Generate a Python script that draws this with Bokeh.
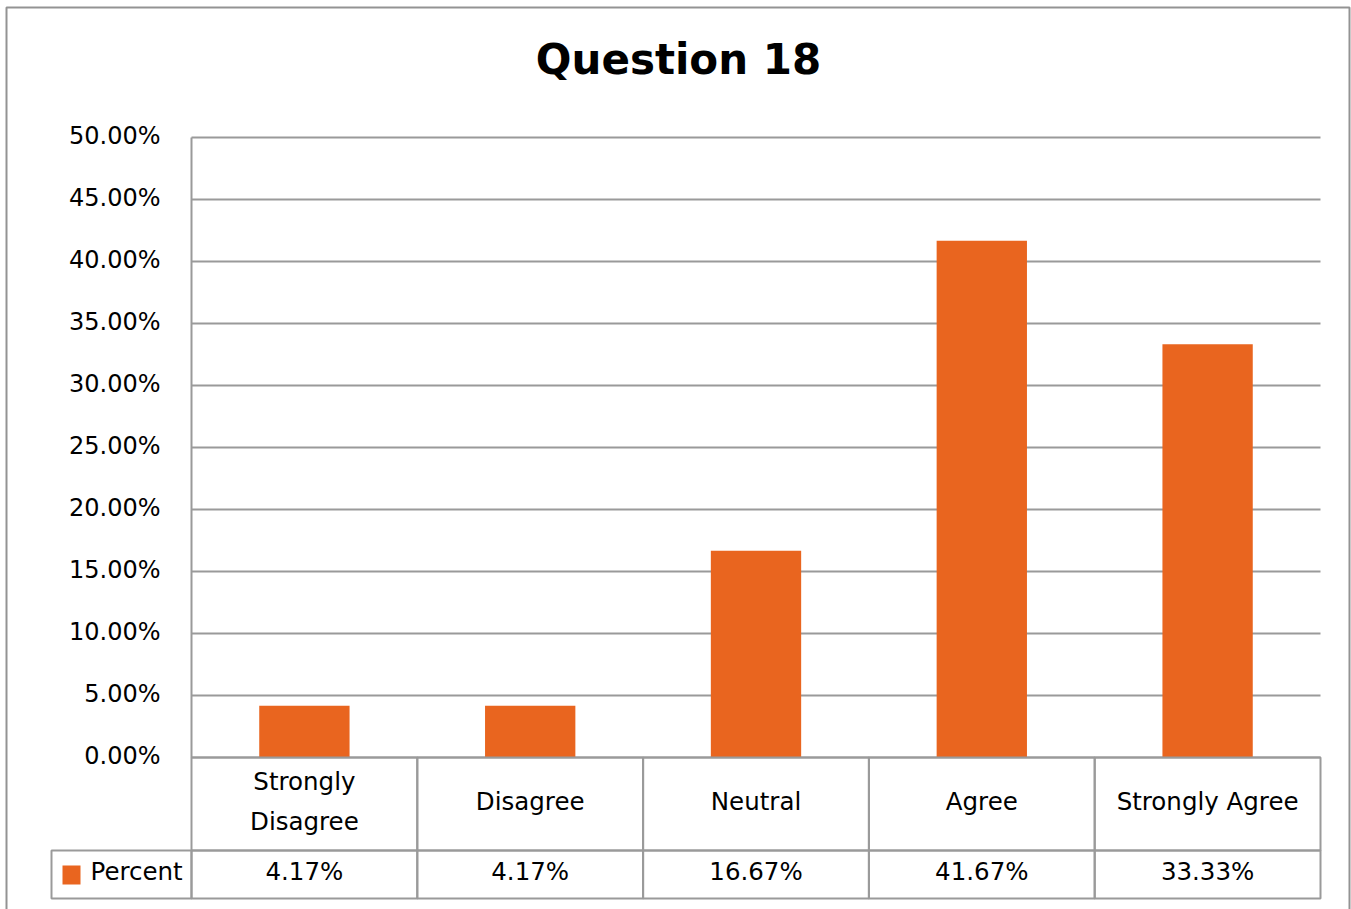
from bokeh.plotting import figure
from bokeh.models import Range1d, ColumnDataSource
from bokeh.core.properties import value
from bokeh.embed import file_html
from bokeh.resources import INLINE

# ---- data ----
categories = ["Strongly Disagree", "Disagree", "Neutral", "Agree", "Strongly Agree"]
header_labels = ["Strongly\nDisagree", "Disagree", "Neutral", "Agree", "Strongly Agree"]
percent = [0.0417, 0.0417, 0.1667, 0.4167, 0.3333]
value_labels = ["4.17%", "4.17%", "16.67%", "41.67%", "33.33%"]
y_ticks = [0.0, 0.05, 0.10, 0.15, 0.20, 0.25, 0.30, 0.35, 0.40, 0.45, 0.50]
series_name = "Percent"
title_text = "Question 18"

# ---- style / layout ----
FONT = "DejaVu Sans"
BAR = "#E9651F"
GRID = "#9a9a9a"
BORDER = "#939393"
W, H = 1351, 909
PL, PR, PT, PB = 191, 1320, 137, 757      # plot area in page px
YMAX = 0.5
n = len(categories)
XU = (PR - PL) / n           # px per category
YU = (PB - PT) / YMAX        # px per unit value


def x_of(px):
    return -0.5 + (px - PL) / XU


def y_of(py):
    return (PB - py) / YU


p = figure(width=W, height=H,
           x_range=Range1d(x_of(0), x_of(W)),
           y_range=Range1d(y_of(H), y_of(0)),
           output_backend="svg", toolbar_location=None,
           x_axis_location=None, y_axis_location=None,
           min_border=0)
p.outline_line_color = None
p.grid.visible = False
p.background_fill_color = "white"
p.border_fill_color = "white"

idx = list(range(n))
left_edge, right_edge = -0.5, n - 0.5

# outer chart border
p.quad(left=x_of(6), right=x_of(1349), top=y_of(7), bottom=y_of(H + 40),
       fill_color=None, line_color=BORDER, line_width=2)

# gridlines + y axis line
p.segment(x0=[left_edge] * len(y_ticks), x1=[right_edge] * len(y_ticks),
          y0=y_ticks, y1=y_ticks, line_color=GRID, line_width=2)
p.segment(x0=[left_edge], x1=[left_edge], y0=[0], y1=[YMAX],
          line_color=GRID, line_width=2)

# y tick labels
tick_text = ["%.2f%%" % (t * 100) for t in y_ticks]
p.text(x=[x_of(160)] * len(y_ticks), y=y_ticks, text=tick_text,
       text_align="right", text_baseline="middle", y_offset=-1.5,
       text_font=value(FONT), text_font_size="24px", text_color="black")

# bars
src = ColumnDataSource(dict(x=idx, top=percent, cat=categories))
p.vbar(x="x", top="top", width=0.4, source=src, fill_color=BAR, line_color=None)

# data table cells
row1_bot, row2_bot = y_of(850), y_of(898)
p.quad(left=[i - 0.5 for i in idx], right=[i + 0.5 for i in idx],
       top=[0] * n, bottom=[row1_bot] * n,
       fill_color=None, line_color=GRID, line_width=2)
p.quad(left=[i - 0.5 for i in idx], right=[i + 0.5 for i in idx],
       top=[row1_bot] * n, bottom=[row2_bot] * n,
       fill_color=None, line_color=GRID, line_width=2)
p.quad(left=[x_of(51)], right=[left_edge], top=[row1_bot], bottom=[row2_bot],
       fill_color=None, line_color=GRID, line_width=2)

TABLE_FS = "24.5px"

# legend key + series name
p.quad(left=[x_of(62)], right=[x_of(80)], top=[y_of(865)], bottom=[y_of(884)],
       fill_color=BAR, line_color=None)
p.text(x=[x_of(90)], y=[y_of(870.5)], text=[series_name], text_align="left",
       text_baseline="middle", text_font=value(FONT),
       text_font_size=TABLE_FS, text_color="black")

# header labels (category names)
hx, hy, ht = [], [], []
for i, hdr in zip(idx, header_labels):
    lines = hdr.split("\n")
    m = len(lines)
    for k, ln in enumerate(lines):
        hx.append(i)
        hy.append(y_of(801 + (k - (m - 1) / 2) * 40))
        ht.append(ln)
p.text(x=hx, y=hy, text=ht, text_align="center", text_baseline="middle",
       text_font=value(FONT), text_font_size=TABLE_FS, text_color="black")

# value row
p.text(x=idx, y=[y_of(870.5)] * n, text=value_labels, text_align="center",
       text_baseline="middle", text_font=value(FONT),
       text_font_size=TABLE_FS, text_color="black")

# title
p.text(x=[x_of(678)], y=[y_of(59)], text=[title_text], text_align="center",
       text_baseline="middle", text_font=value(FONT),
       text_font_size="42px", text_font_style="bold", text_color="black")

open("out.html", "w").write(file_html(p, INLINE))
